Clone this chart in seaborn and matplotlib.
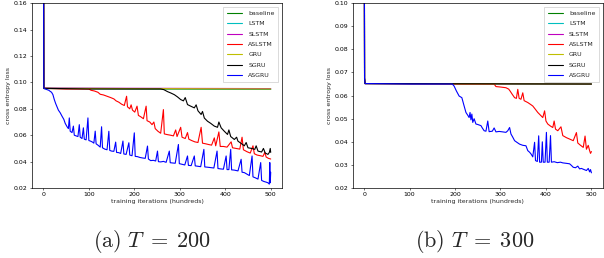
import numpy as np
import pandas as pd
import seaborn as sns
import matplotlib.pyplot as plt

######################################
### Data

names = ['baseline', 'LSTM', 'SLSTM', 'ASLSTM', 'GRU', 'SGRU', 'ASGRU']
colors = ['g', 'c', 'm', 'r', 'y', 'k', 'b']

## (a) T = 200
flat200_x = [0, 1, 500]
baseline200_y = [0.25, 0.0953, 0.0947]
lstm200_y = [0.25, 0.0955, 0.0950]
slstm200_y = [0.25, 0.0957, 0.0953]
gru200_y = [0.25, 0.0955, 0.0950]

aslstm200_x = [0, 1, 50, 100, 105, 112, 120, 125, 132, 140, 148, 155, 160, 166, 172, 178, 183, 185,
               190, 193, 196, 201, 206, 209, 214, 220, 226, 228, 234, 239, 243, 246, 252, 258, 264,
               266, 272, 280, 286, 291, 294, 302, 305, 312, 317, 320, 326, 333, 340, 347, 350, 357,
               363, 370, 376, 379, 386, 389, 396, 404, 413, 416, 424, 432, 437, 440, 448, 455, 461,
               464, 470, 477, 483, 487, 490, 495, 500]
aslstm200_y = [0.25, 0.0955, 0.0950, 0.0950, 0.0940, 0.0935, 0.0925, 0.0910, 0.0905, 0.0895, 0.0885,
               0.0875, 0.0860, 0.0850, 0.0835, 0.0825, 0.0895, 0.0815, 0.0800, 0.0830, 0.0790, 0.0775,
               0.0820, 0.0750, 0.0740, 0.0725, 0.0820, 0.0710, 0.0700, 0.0680, 0.0700, 0.0650, 0.0630,
               0.0615, 0.0794, 0.0610, 0.0605, 0.0600, 0.0595, 0.0640, 0.0590, 0.0660, 0.0585, 0.0575,
               0.0620, 0.0570, 0.0560, 0.0550, 0.0545, 0.0660, 0.0540, 0.0535, 0.0530, 0.0525, 0.0580,
               0.0520, 0.0625, 0.0515, 0.0515, 0.0510, 0.0550, 0.0505, 0.0500, 0.0495, 0.0585, 0.0490,
               0.0475, 0.0465, 0.0520, 0.0460, 0.0450, 0.0445, 0.0440, 0.0470, 0.0435, 0.0425, 0.0420]

sgru200_x = [0, 1, 100, 200, 258, 265, 273, 280, 288, 295, 302, 308, 312, 317, 324, 332, 336, 340,
             347, 350, 354, 361, 368, 376, 383, 386, 391, 398, 405, 408, 412, 420, 425, 428, 435,
             442, 446, 450, 458, 465, 468, 472, 480, 484, 488, 494, 497, 499, 500]
sgru200_y = [0.25, 0.0955, 0.0950, 0.0950, 0.0950, 0.0945, 0.0930, 0.0920, 0.0907, 0.0890, 0.0870,
             0.0860, 0.0885, 0.0832, 0.0820, 0.0807, 0.0830, 0.0785, 0.0757, 0.0780, 0.0730, 0.0706,
             0.0690, 0.0669, 0.0660, 0.0700, 0.0656, 0.0630, 0.0606, 0.0640, 0.0590, 0.0568, 0.0585,
             0.0555, 0.0538, 0.0520, 0.0545, 0.0505, 0.0500, 0.0493, 0.0520, 0.0480, 0.0473, 0.0500,
             0.0465, 0.0455, 0.0470, 0.0500, 0.0470]

asgru200_x = [0, 1, 4, 8, 12, 15, 18, 21, 24, 27, 30, 33, 37, 41, 45, 48, 52, 55, 57, 59, 63, 66,
              68, 72, 76, 79, 81, 85, 88, 90, 94, 98, 100, 104, 108, 111, 114, 116, 120, 125, 128,
              130, 135, 140, 144, 146, 150, 155, 159, 161, 166, 170, 175, 177, 182, 188, 190, 195,
              200, 202, 207, 212, 218, 224, 229, 231, 236, 242, 247, 251, 253, 258, 264, 270, 277,
              279, 284, 290, 297, 299, 305, 311, 317, 319, 325, 332, 334, 340, 346, 353, 355, 361,
              368, 375, 382, 384, 390, 396, 402, 404, 408, 412, 414, 420, 428, 435, 437, 442, 448,
              453, 459, 461, 466, 472, 478, 480, 485, 490, 494, 497, 498, 499, 500]
asgru200_y = [0.25, 0.0955, 0.0950, 0.0945, 0.0940, 0.0932, 0.0925, 0.0907, 0.0870, 0.0840, 0.0815,
              0.0790, 0.0770, 0.0744, 0.0720, 0.0690, 0.0665, 0.0650, 0.0731, 0.0630, 0.0620, 0.0669,
              0.0600, 0.0595, 0.0590, 0.0680, 0.0585, 0.0575, 0.0656, 0.0570, 0.0565, 0.0731, 0.0560,
              0.0555, 0.0548, 0.0540, 0.0631, 0.0535, 0.0525, 0.0510, 0.0664, 0.0505, 0.0495, 0.0490,
              0.0630, 0.0485, 0.0480, 0.0478, 0.0548, 0.0470, 0.0468, 0.0462, 0.0556, 0.0458, 0.0455,
              0.0543, 0.0450, 0.0445, 0.0618, 0.0440, 0.0438, 0.0432, 0.0428, 0.0425, 0.0518, 0.0420,
              0.0408, 0.0410, 0.0405, 0.0480, 0.0400, 0.0398, 0.0402, 0.0395, 0.0480, 0.0392, 0.0390,
              0.0388, 0.0530, 0.0385, 0.0380, 0.0375, 0.0443, 0.0372, 0.0370, 0.0443, 0.0368, 0.0365,
              0.0362, 0.0493, 0.0360, 0.0358, 0.0355, 0.0352, 0.0480, 0.0348, 0.0345, 0.0343, 0.0443,
              0.0340, 0.0340, 0.0493, 0.0338, 0.0336, 0.0330, 0.0418, 0.0320, 0.0317, 0.0305, 0.0295,
              0.0443, 0.0285, 0.0278, 0.0268, 0.0393, 0.0258, 0.0250, 0.0245, 0.0240, 0.0230, 0.0393,
              0.0240, 0.0320]

## (b) T = 300
flat300_x = [0, 1, 2, 500]
baseline300_y = [0.20, 0.0675, 0.0652, 0.0650]
lstm300_y = [0.20, 0.0675, 0.0652, 0.0650]
slstm300_y = [0.20, 0.0676, 0.0652, 0.0650]
gru300_y = [0.20, 0.0675, 0.0652, 0.0650]
sgru300_y = [0.20, 0.0675, 0.0652, 0.0650]

aslstm300_x = [0, 1, 2, 100, 200, 286, 290, 300, 312, 318, 321, 326, 331, 335, 338, 341, 345, 349,
               352, 360, 366, 371, 377, 382, 388, 393, 397, 400, 404, 410, 415, 418, 421, 426, 433,
               437, 445, 452, 460, 467, 470, 476, 482, 486, 489, 493, 496, 498, 500]
aslstm300_y = [0.20, 0.0675, 0.0652, 0.0651, 0.0650, 0.0650, 0.0639, 0.0637, 0.0634, 0.0628, 0.0620,
               0.0605, 0.0591, 0.0588, 0.0627, 0.0588, 0.0584, 0.0612, 0.0578, 0.0570, 0.0562, 0.0555,
               0.0540, 0.0527, 0.0515, 0.0505, 0.0534, 0.0490, 0.0477, 0.0468, 0.0462, 0.0490, 0.0455,
               0.0448, 0.0465, 0.0427, 0.0418, 0.0412, 0.0405, 0.0440, 0.0395, 0.0385, 0.0376, 0.0425,
               0.0368, 0.0385, 0.0362, 0.0350, 0.0358]

asgru300_x = [0, 1, 2, 100, 194, 198, 203, 209, 215, 220, 224, 228, 231, 233, 235, 237, 239, 242,
              246, 250, 257, 260, 264, 268, 272, 275, 282, 286, 290, 297, 305, 312, 316, 320, 323,
              327, 331, 336, 342, 349, 356, 360, 364, 367, 371, 375, 377, 381, 384, 386, 390, 392,
              394, 398, 401, 403, 407, 410, 412, 418, 425, 432, 437, 445, 452, 456, 460, 465, 470,
              474, 478, 484, 489, 493, 496, 498, 500]
asgru300_y = [0.20, 0.0675, 0.0652, 0.0650, 0.0650, 0.0641, 0.0620, 0.0598, 0.0591, 0.0555, 0.0527,
              0.0515, 0.0505, 0.0527, 0.0495, 0.0520, 0.0484, 0.0500, 0.0477, 0.0475, 0.0470, 0.0460,
              0.0448, 0.0446, 0.0490, 0.0444, 0.0446, 0.0460, 0.0443, 0.0445, 0.0443, 0.0441, 0.0448,
              0.0462, 0.0434, 0.0420, 0.0405, 0.0398, 0.0390, 0.0385, 0.0383, 0.0362, 0.0355, 0.0348,
              0.0335, 0.0398, 0.0319, 0.0315, 0.0426, 0.0312, 0.0312, 0.0400, 0.0312, 0.0312, 0.0441,
              0.0312, 0.0312, 0.0427, 0.0312, 0.0314, 0.0310, 0.0312, 0.0309, 0.0307, 0.0305, 0.0298,
              0.0290, 0.0288, 0.0295, 0.0283, 0.0285, 0.0280, 0.0276, 0.0285, 0.0270, 0.0280, 0.0266]

panel200 = [(flat200_x, baseline200_y), (flat200_x, lstm200_y), (flat200_x, slstm200_y),
            (aslstm200_x, aslstm200_y), (flat200_x, gru200_y), (sgru200_x, sgru200_y),
            (asgru200_x, asgru200_y)]
panel300 = [(flat300_x, baseline300_y), (flat300_x, lstm300_y), (flat300_x, slstm300_y),
            (aslstm300_x, aslstm300_y), (flat300_x, gru300_y), (flat300_x, sgru300_y),
            (asgru300_x, asgru300_y)]

#####################################
### Plotting

sns.set_style('ticks')
plt.rcParams['font.family'] = ['DejaVu Sans']
plt.rcParams['mathtext.fontset'] = 'cm'
fs = 4.5

fig = plt.figure(figsize=(6.04, 2.58), dpi=100)
ax1 = fig.add_axes([0.053, 0.271, 0.414, 0.717])
ax2 = fig.add_axes([0.584, 0.271, 0.414, 0.717])

for ax, panel, ylim, yticks in [(ax1, panel200, (0.02, 0.16), np.arange(0.02, 0.161, 0.02)),
                                (ax2, panel300, (0.02, 0.10), np.arange(0.02, 0.101, 0.01))]:
    for (x, y), name, c in zip(panel, names, colors):
        sns.lineplot(x=x, y=y, color=c, label=name, lw=0.8, ax=ax, estimator=None)
    ax.set_xlim(-25, 525)
    ax.set_ylim(*ylim)
    ax.set_xticks([0, 100, 200, 300, 400, 500])
    ax.set_yticks(yticks)
    ax.set_yticklabels(['%.2f' % t for t in yticks])
    ax.tick_params(labelsize=fs, length=1.6, width=0.4, pad=1.5, colors='black')
    for s in ax.spines.values():
        s.set_linewidth(0.5)
        s.set_color('black')
    ax.set_xlabel('training iterations (hundreds)', fontsize=fs, labelpad=1.5)
    ax.set_ylabel('cross entropy loss', fontsize=fs, labelpad=2)
    ax.legend(loc='upper right', fontsize=fs, frameon=True, fancybox=False,
              edgecolor='0.8', framealpha=1, handlelength=2.4, labelspacing=0.8,
              borderpad=0.6, handletextpad=1.0, borderaxespad=0.6).get_frame().set_linewidth(0.5)

fig.text(0.252, 0.063, r'$\mathrm{(a)}\ T\;=\;200$', fontsize=16, ha='center', va='center')
fig.text(0.786, 0.063, r'$\mathrm{(b)}\ T\;=\;300$', fontsize=16, ha='center', va='center')

fig.savefig('out.png', dpi=100)
